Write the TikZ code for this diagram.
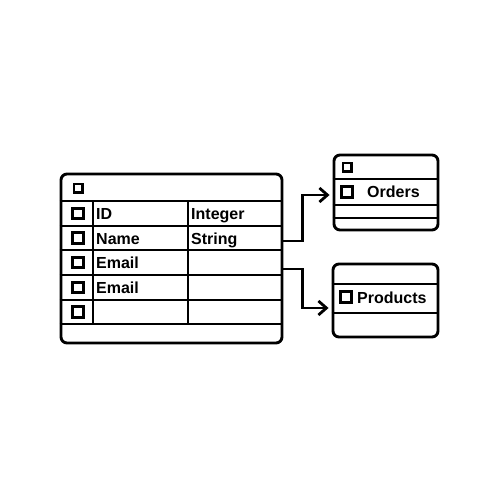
\documentclass[tikz,border=0pt]{standalone}
\usepackage{fontspec}
\setmainfont{Liberation Sans}
\usetikzlibrary{positioning}
\usetikzlibrary{arrows.meta}

\begin{document}
\begin{tikzpicture}[x=1pt,y=-1pt, %one unit is one pixel of the picture
tbl/.style ={rectangle, draw, line width=2.9pt, rounded corners=6pt, inner sep=0pt},
chk/.style ={rectangle, draw, line width=2.8pt, minimum size=10.5pt, inner sep=0pt},
chks/.style ={rectangle, draw, line width=2.5pt, minimum size=8.5pt, inner sep=0pt},
txt/.style ={anchor=base west, inner sep=0pt, font=\fontsize{16}{18}\selectfont\bfseries},
grid/.style ={line width=2.5pt},
conn/.style ={line width=2.8pt, -{Straight Barb[length=8pt,width=14pt]}}
]
\useasboundingbox (0,0) rectangle (500,500);
%main table
\node[tbl, minimum width=221pt, minimum height=169pt] (users) at (171.5,258.5) {};
\foreach \y in {201,226,250,275,300,324}
  \draw[grid] (users.west |- 0,\y) -- (users.east |- 0,\y);
\foreach \x in {93,188}
  \draw[grid] (\x,201) -- (\x,324);
\node[chks] (uhead) at (78,188) {};
\foreach \y/\n in {213.5/1,238/2,262.5/3,287.5/4,312/5}
  \node[chk] (ubox\n) at (78,\y) {};
\node[txt] (id) at (96,219.5) {ID};
\node[txt] (name) at (96,244) {Name};
\node[txt] (mail1) at (96,268.5) {Email};
\node[txt] (mail2) at (96,293.5) {Email};
\node[txt] (int) at (191,219.5) {Integer};
\node[txt] (str) at (191,244) {String};
%orders table
\node[tbl, minimum width=104pt, minimum height=75pt] (orders) at (386,192.5) {};
\foreach \y in {179,205,218}
  \draw[grid] (orders.west |- 0,\y) -- (orders.east |- 0,\y);
\node[chks] (ohead) at (347,167) {};
\node[chk] (obox) at (347,192) {};
\node[txt] (ord) at (367,197.5) {Orders};
%products table
\node[tbl, minimum width=105pt, minimum height=73pt] (products) at (385.5,300.5) {};
\foreach \y in {284,313}
  \draw[grid] (products.west |- 0,\y) -- (products.east |- 0,\y);
\node[chk] (pbox) at (346,297) {};
\node[txt] (prod) at (357,303) {Products};
%links
\coordinate (u1) at (users.east |- 0,241);
\coordinate (u2) at (users.east |- 0,269);
\coordinate (o1) at ([xshift=-3pt]orders.west |- 0,195);
\coordinate (p1) at ([xshift=-3pt]products.west |- 0,308);
\draw[conn] (u1) -- ++(19,0) |- (o1);
\draw[conn] (u2) -- ++(19,0) |- (p1);
\end{tikzpicture}
\end{document}
